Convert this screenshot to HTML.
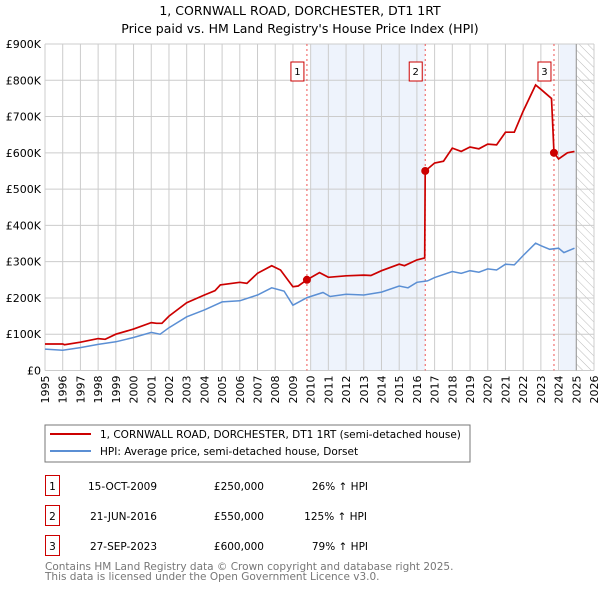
<!DOCTYPE html>
<html><head><meta charset="utf-8"><style>
body{margin:0;background:#fff;width:600px;height:590px;overflow:hidden;font-family:"Liberation Sans","DejaVu Sans",sans-serif}
svg text{font-family:"DejaVu Sans","Liberation Sans",sans-serif}
</style></head><body>
<svg id="c" width="600" height="590" xmlns="http://www.w3.org/2000/svg">
<text x="300" y="15" text-anchor="middle" font-size="12.5">1, CORNWALL ROAD, DORCHESTER, DT1 1RT</text>
<text x="300" y="33" text-anchor="middle" font-size="12.5">Price paid vs. HM Land Registry's House Price Index (HPI)</text>
<defs><pattern id="hatch" width="6" height="6" patternUnits="userSpaceOnUse" patternTransform="rotate(-45)"><line x1="0" y1="0" x2="0" y2="6" stroke="#bbb" stroke-width="1"/></pattern></defs>
<g id="plot"></g>
<rect x="45" y="425" width="425" height="37" fill="#fff" stroke="#777"/>
<line x1="50" y1="434" x2="91" y2="434" stroke="#cc0000" stroke-width="2"/>
<text x="100" y="438" font-size="10.5">1, CORNWALL ROAD, DORCHESTER, DT1 1RT (semi-detached house)</text>
<line x1="50" y1="451" x2="91" y2="451" stroke="#5b8fd4" stroke-width="2"/>
<text x="100" y="455" font-size="10.5">HPI: Average price, semi-detached house, Dorset</text>
<g font-size="10.5">
<rect x="45.5" y="475.5" width="14" height="20" fill="#fff" stroke="#cc0000"/><text x="52.5" y="490" text-anchor="middle">1</text>
<text x="157" y="490" text-anchor="end">15-OCT-2009</text><text x="264" y="490" text-anchor="end">£250,000</text><text x="368" y="490" text-anchor="end">26% ↑ HPI</text>
<rect x="45.5" y="505.5" width="14" height="20" fill="#fff" stroke="#cc0000"/><text x="52.5" y="520" text-anchor="middle">2</text>
<text x="157" y="520" text-anchor="end">21-JUN-2016</text><text x="264" y="520" text-anchor="end">£550,000</text><text x="367" y="520" text-anchor="end">125% ↑ HPI</text>
<rect x="45.5" y="535.5" width="14" height="20" fill="#fff" stroke="#cc0000"/><text x="52.5" y="550" text-anchor="middle">3</text>
<text x="157" y="550" text-anchor="end">27-SEP-2023</text><text x="264" y="550" text-anchor="end">£600,000</text><text x="368" y="550" text-anchor="end">79% ↑ HPI</text>
</g>
<text x="45" y="570" font-size="10.5" fill="#777">Contains HM Land Registry data © Crown copyright and database right 2025.</text>
<text x="45" y="580" font-size="10.5" fill="#777">This data is licensed under the Open Government Licence v3.0.</text>
</svg>
<script>
const yTicks=[0,100,200,300,400,500,600,700,800,900];
const yTickLabels=["£0","£100K","£200K","£300K","£400K","£500K","£600K","£700K","£800K","£900K"];
const xYears=[1995,1996,1997,1998,1999,2000,2001,2002,2003,2004,2005,2006,2007,2008,2009,2010,2011,2012,2013,2014,2015,2016,2017,2018,2019,2020,2021,2022,2023,2024,2025,2026];
const redT=[1995,1996,1996.1,1997,1998,1998.4,1999,2000,2001,2001.3,2001.6,2002,2003,2004,2004.6,2004.9,2006,2006.4,2007,2007.8,2008.3,2009,2009.3,2009.79,2010.5,2011,2012,2013,2013.4,2014,2015,2015.3,2016,2016.44,2016.47,2017,2017.5,2018,2018.5,2019,2019.5,2020,2020.5,2021,2021.5,2022,2022.7,2023,2023.55,2023.6,2023.74,2024,2024.5,2024.9];
const redV=[73,73,71,78,88,86,100,114,132,130,130,150,187,208,220,236,243,240,268,289,277,231,233,250,270,257,261,263,262,275,293,289,305,310,550,572,577,613,604,616,611,624,622,657,657,715,787,775,752,750,600,583,600,604];
const blueT=[1995,1996,1997,1998,1999,2000,2001,2001.5,2002,2003,2004,2005,2006,2007,2007.8,2008.5,2009,2009.8,2010.7,2011.1,2012,2013,2014,2015,2015.5,2016,2016.6,2017,2018,2018.5,2019,2019.5,2020,2020.5,2021,2021.5,2022,2022.7,2023,2023.5,2024,2024.3,2024.9];
const blueV=[59,56,63,72,79,91,105,100,118,148,167,189,192,208,228,219,180,201,215,204,210,208,216,233,228,243,247,256,273,268,275,271,280,277,293,291,317,351,344,334,337,325,337];
const saleT=[2009.79,2016.47,2023.74];
const saleV=[250,550,600];
const saleLabels=["1","2","3"];
const shadeStart=[2010.0,2024.07];
const shadeEnd=[2016.47,2025];
const L=45,R=594,T=44,B=370.5;
const X=t=>L+(t-1995)/31*(R-L);
const Y=v=>B-v/900*(B-T);
const g=document.getElementById('plot');
const NS='http://www.w3.org/2000/svg';
function mk(tag,at,parent){const e=document.createElementNS(NS,tag);for(const k in at)e.setAttribute(k,at[k]);(parent||g).appendChild(e);return e;}
for(let i=0;i<shadeStart.length;i++){const r=mk('rect',{x:X(shadeStart[i]),y:T,width:X(shadeEnd[i])-X(shadeStart[i]),height:B-T,fill:'#eef3fc'});

}
const h=mk('rect',{x:X(2025),y:T,width:X(2026)-X(2025),height:B-T,fill:'url(#hatch)'});


xYears.forEach(yr=>{const l=mk('line',{x1:X(yr),x2:X(yr),y1:T,y2:B,stroke:'#ccc','stroke-width':1});


const t=mk('text',{x:0,y:0,'font-size':11,'text-anchor':'end',transform:`translate(${X(yr)+4},${B+5}) rotate(-90)`});t.textContent=yr;

});
yTicks.forEach((v,i)=>{const l=mk('line',{x1:L,x2:R,y1:Y(v),y2:Y(v),stroke:'#ccc','stroke-width':1});


const t=mk('text',{x:L-4,y:Y(v)+4,'font-size':11,'text-anchor':'end'});t.textContent=yTickLabels[i];

});
const ax=mk('line',{x1:X(2025),x2:X(2025),y1:T,y2:B,stroke:'#999','stroke-width':1});


saleT.forEach((t,i)=>{const l=mk('line',{x1:X(t),x2:X(t),y1:T,y2:B,stroke:'#e55','stroke-width':1,'stroke-dasharray':'2,3'});


const bx=mk('rect',{x:X(t)-16,y:62,width:13,height:19,fill:'#fff',stroke:'#cc0000'});


const tx=mk('text',{x:X(t)-9.5,y:75,'font-size':10,'text-anchor':'middle'});tx.textContent=saleLabels[i];

});
const bp=mk('path',{d:blueT.map((t,i)=>(i?'L':'M')+X(t).toFixed(1)+','+Y(blueV[i]).toFixed(1)).join(''),fill:'none',stroke:'#5b8fd4','stroke-width':1.5});


const rp=mk('path',{d:redT.map((t,i)=>(i?'L':'M')+X(t).toFixed(1)+','+Y(redV[i]).toFixed(1)).join(''),fill:'none',stroke:'#cc0000','stroke-width':1.7});


saleT.forEach((t,i)=>{const c=mk('circle',{cx:X(t),cy:Y(saleV[i]),r:4,fill:'#cc0000'});

});
</script>
</body></html>
